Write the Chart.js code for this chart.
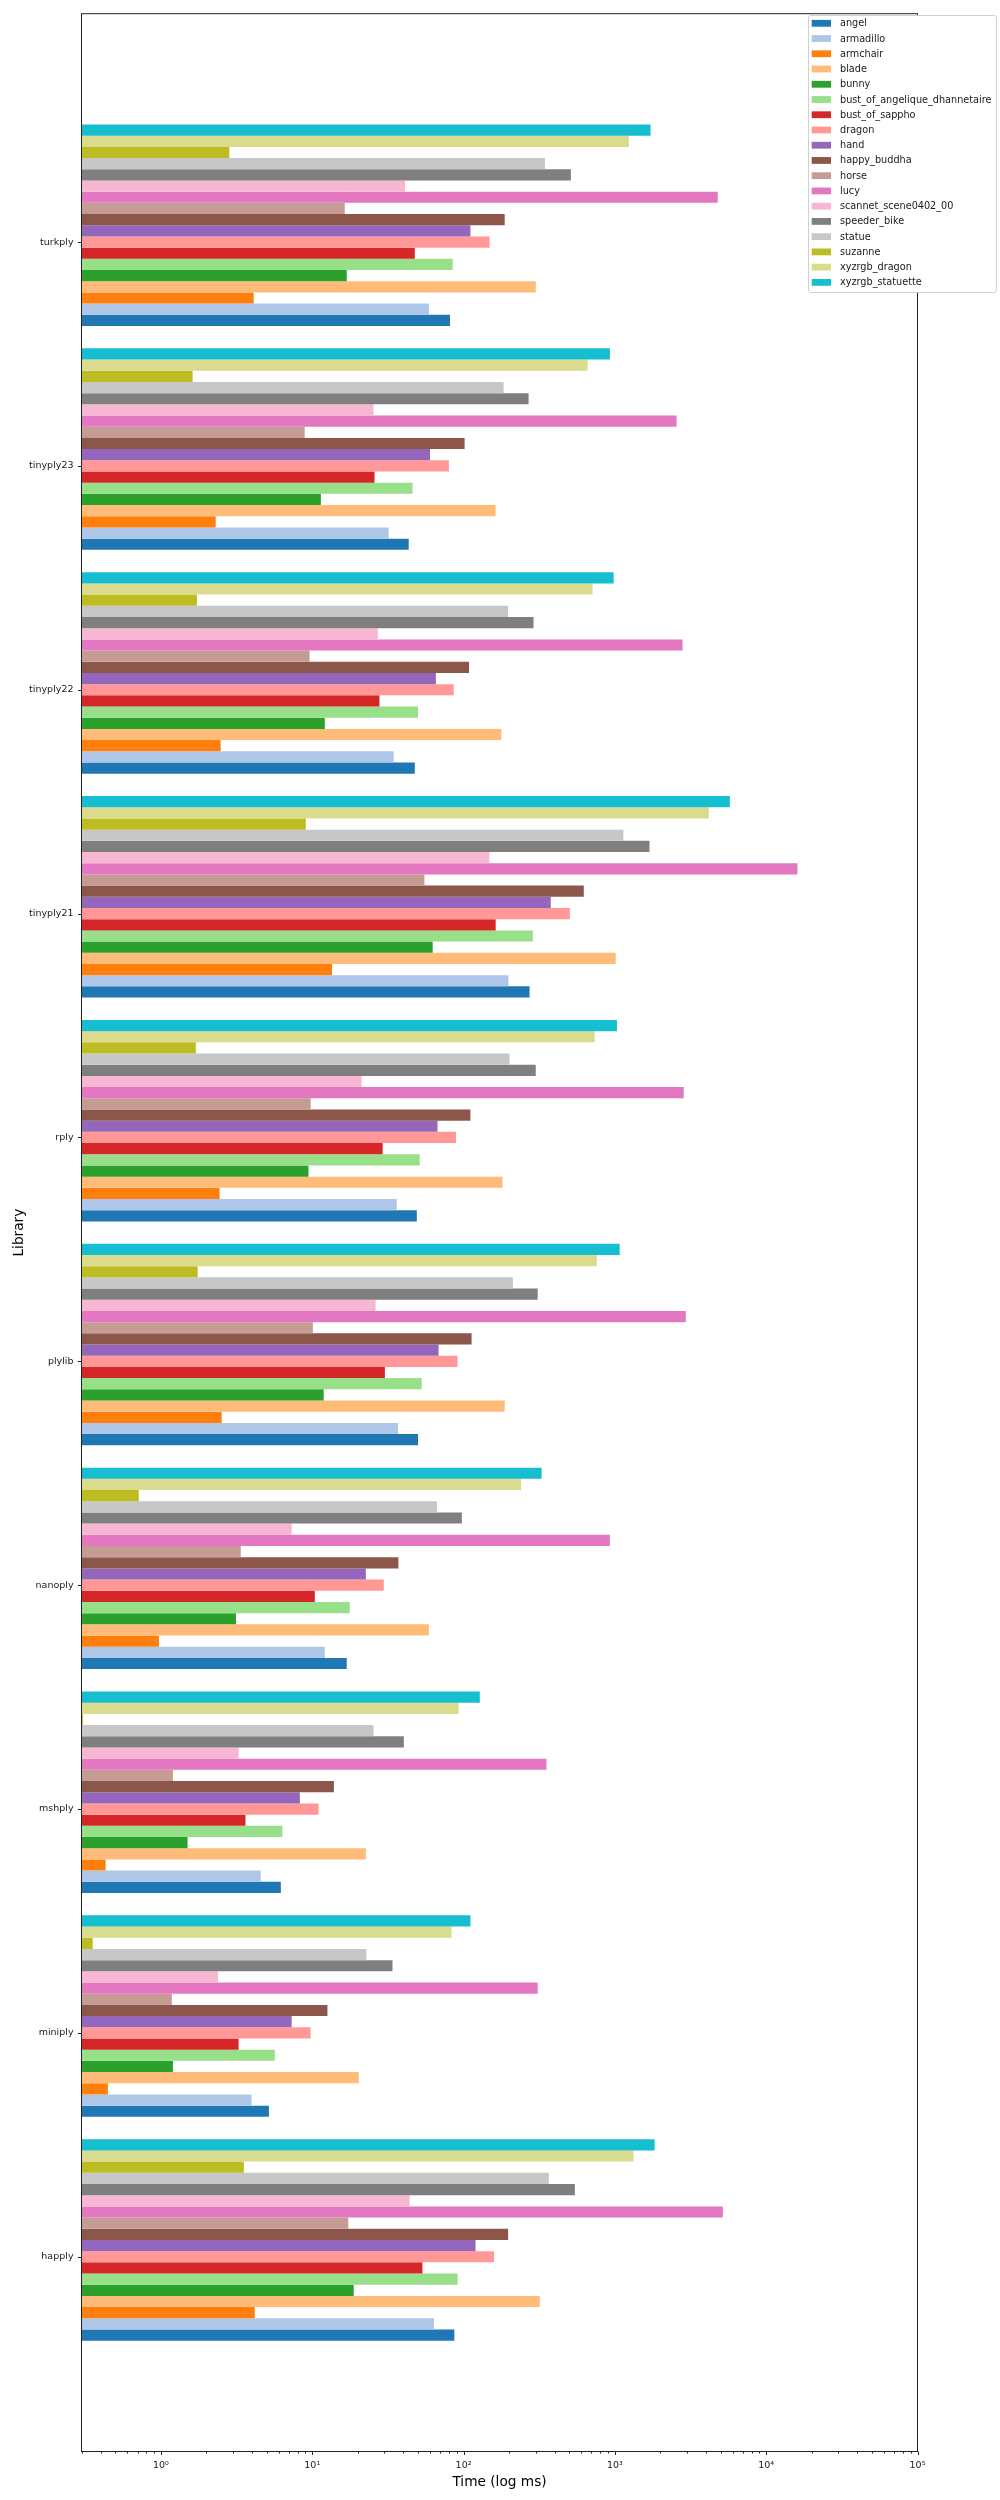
<!DOCTYPE html>
<html>
<head>
<meta charset="utf-8">
<title>PLY loading time per library</title>
<script src="https://cdn.jsdelivr.net/npm/chart.js@4.4.1/dist/chart.umd.min.js"></script>
<style>
  html, body { margin: 0; padding: 0; background: #fff; }
  #wrap { width: 1000px; height: 2500px; }
</style>
</head>
<body>
<div id="wrap"><canvas id="plyChart" width="1000" height="2500"></canvas></div>
<script>
// Libraries, from the bottom of the plot to the top
const libraries = ['happly', 'miniply', 'mshply', 'nanoply', 'plylib', 'rply', 'tinyply21', 'tinyply22', 'tinyply23', 'turkply'];

const models = ['angel', 'armadillo', 'armchair', 'blade', 'bunny', 'bust_of_angelique_dhannetaire',
  'bust_of_sappho', 'dragon', 'hand', 'happy_buddha', 'horse', 'lucy', 'scannet_scene0402_00',
  'speeder_bike', 'statue', 'suzanne', 'xyzrgb_dragon', 'xyzrgb_statuette'];

const colors = ['#1f77b4', '#aec7e8', '#ff7f0e', '#ffbb78', '#2ca02c', '#98df8a', '#d62728', '#ff9896',
  '#9467bd', '#8c564b', '#c49c94', '#e377c2', '#f7b6d2', '#7f7f7f', '#c7c7c7', '#bcbd22', '#dbdb8d', '#17becf'];

// Time in ms for each model, one value per library (same order as libraries)
const angel            = [86.9, 5.17, 6.20, 16.9, 50.0, 49.1, 273, 47.6, 43.4, 81.3];
const armadillo        = [63.7, 3.97, 4.57, 12.1, 36.9, 36.2, 198, 34.5, 32.0, 59.0];
const armchair         = [4.17, 0.446, 0.431, 0.97, 2.52, 2.44, 13.5, 2.48, 2.30, 4.10];
const blade            = [319, 20.3, 22.6, 59.0, 187, 181, 1012, 178, 162.7, 300];
const bunny            = [18.8, 1.20, 1.50, 3.13, 11.9, 9.44, 62.5, 12.1, 11.4, 16.9];
const bustAngelique    = [91.3, 5.66, 6.35, 17.7, 52.9, 51.3, 287, 50.0, 46.0, 84.7];
const bustSappho       = [53.5, 3.26, 3.62, 10.4, 30.2, 29.2, 163, 27.8, 25.8, 47.6];
const dragon           = [159, 9.76, 11.0, 29.7, 91.3, 89.1, 504, 86.1, 80.0, 148.6];
const hand             = [120, 7.31, 8.28, 22.6, 68.4, 67.3, 377, 65.6, 60.0, 111];
const happyBuddha      = [197, 12.6, 13.9, 37.1, 113, 111, 623, 108.6, 101.6, 187];
const horse            = [17.3, 1.18, 1.20, 3.37, 10.1, 9.76, 55.1, 9.60, 8.91, 16.4];
const lucy             = [5171, 309, 353, 927, 2943, 2850, 16100, 2802, 2558, 4786];
const scannet          = [44.0, 2.38, 3.26, 7.31, 26.2, 21.2, 148, 27.1, 25.4, 41.0];
const speederBike      = [544, 33.9, 40.3, 97.4, 309, 300, 1693, 290, 269, 512];
const statue           = [366, 22.8, 25.4, 66.7, 212, 201, 1138, 197, 184, 345];
const suzanne          = [3.53, 0.354, 0.305, 0.714, 1.75, 1.70, 9.06, 1.73, 1.62, 2.83];
const xyzrgbDragon     = [1329, 83.3, 92.8, 240, 760, 736, 4176, 712, 661, 1238];
const xyzrgbStatuette  = [1830, 111, 128, 328, 1076, 1032, 5754, 982, 927, 1722];

const timesByModel = [angel, armadillo, armchair, blade, bunny, bustAngelique, bustSappho, dragon, hand,
  happyBuddha, horse, lucy, scannet, speederBike, statue, suzanne, xyzrgbDragon, xyzrgbStatuette];

const xTickLabels = ['10⁰', '10¹', '10²', '10³', '10⁴', '10⁵'];

Chart.defaults.font.family = '"DejaVu Sans", sans-serif';
Chart.defaults.color = '#1a1a1a';

// first model sits at the bottom of each group, so feed the datasets top-down
const datasets = models.map((name, m) => ({
  label: name,
  data: timesByModel[m].map((v, i) => ({ x: v, y: i })),
  backgroundColor: colors[m],
  borderWidth: 0
})).reverse();

const tickShift = 0.075; // library tick sits 1.5 bars below the group centre

function isDecade(v) {
  const p = Math.log10(v);
  return Math.abs(p - Math.round(p)) < 1e-6;
}

const frameAndLegend = {
  id: 'frameAndLegend',
  afterDatasetsDraw(chart) {
    const { ctx, chartArea: a, scales } = chart;
    ctx.save();
    ctx.strokeStyle = '#222';
    ctx.lineWidth = 1;
    ctx.strokeRect(a.left, a.top, a.right - a.left, a.bottom - a.top);
    ctx.beginPath();
    scales.y.ticks.forEach(t => {
      const py = Math.round(scales.y.getPixelForValue(t.value)) + 0.5;
      ctx.moveTo(a.left - 3.5, py);
      ctx.lineTo(a.left, py);
    });
    scales.x.ticks.forEach(t => {
      const px = Math.round(scales.x.getPixelForValue(t.value)) + 0.5;
      ctx.moveTo(px, a.bottom);
      ctx.lineTo(px, a.bottom + (isDecade(t.value) ? 3.5 : 2));
    });
    ctx.stroke();
    ctx.restore();
  },
  afterDraw(chart) {
    const ctx = chart.ctx;
    ctx.save();
    ctx.fillStyle = '#fff';
    ctx.strokeStyle = '#d0d0d0';
    ctx.lineWidth = 1;
    ctx.beginPath();
    ctx.roundRect(808.5, 15.5, 188, 277, 2.5);
    ctx.fill();
    ctx.stroke();
    ctx.font = '9.7px "DejaVu Sans"';
    ctx.textBaseline = 'middle';
    models.forEach((name, i) => {
      const cy = 23.3 + i * 15.24;
      ctx.fillStyle = colors[i];
      ctx.fillRect(811.7, cy - 3.4, 19.3, 6.8);
      ctx.fillStyle = '#1a1a1a';
      ctx.fillText(name, 840, cy + 0.5);
    });
    ctx.restore();
  }
};

new Chart(document.getElementById('plyChart'), {
  type: 'bar',
  data: { datasets },
  options: {
    indexAxis: 'y',
    responsive: false,
    animation: false,
    categoryPercentage: 0.9,
    barPercentage: 1.0,
    layout: { padding: { top: 11.5, right: 82.5, bottom: 0, left: 0 } },
    plugins: {
      legend: { display: false },
      tooltip: { enabled: true }
    },
    scales: {
      x: {
        type: 'logarithmic',
        min: 0.2985,
        max: 100000,
        offset: false,
        grid: { display: false, drawTicks: false },
        border: { display: false },
        afterBuildTicks(scale) {
          const ticks = [];
          for (let e = -1; e <= 4; e++) {
            for (let k = 1; k <= 9; k++) {
              const v = +(k * Math.pow(10, e)).toPrecision(2);
              if (v >= scale.min && v <= scale.max) ticks.push({ value: v });
            }
          }
          ticks.push({ value: scale.max });
          scale.ticks = ticks;
        },
        afterFit(scale) { scale.height = 48.5; },
        ticks: {
          autoSkip: false,
          maxRotation: 0,
          padding: 8,
          font: { size: 9.5 },
          callback(value) {
            if (!isDecade(value)) return '';
            const p = Math.round(Math.log10(value));
            return p >= 0 ? xTickLabels[p] : '';
          }
        },
        title: {
          display: true,
          text: 'Time (log ms)',
          font: { size: 13.7 },
          color: '#000',
          padding: { top: 0, bottom: 9.8 }
        }
      },
      y: {
        type: 'linear',
        min: -0.945,
        max: 9.945,
        bounds: 'data',
        offset: false,
        grid: { display: false, drawTicks: false, offset: false },
        border: { display: false },
        afterBuildTicks(scale) {
          scale.ticks = libraries.map((name, i) => ({ value: i - tickShift }));
        },
        afterFit(scale) { scale.width = 81.5; },
        ticks: {
          autoSkip: false,
          padding: 8,
          font: { size: 9.5 },
          callback(value, index) { return libraries[index]; }
        },
        title: {
          display: true,
          text: 'Library',
          font: { size: 13.7 },
          color: '#000',
          padding: { top: 10.8, bottom: 0 }
        }
      }
    }
  },
  plugins: [frameAndLegend]
});
</script>
</body>
</html>
